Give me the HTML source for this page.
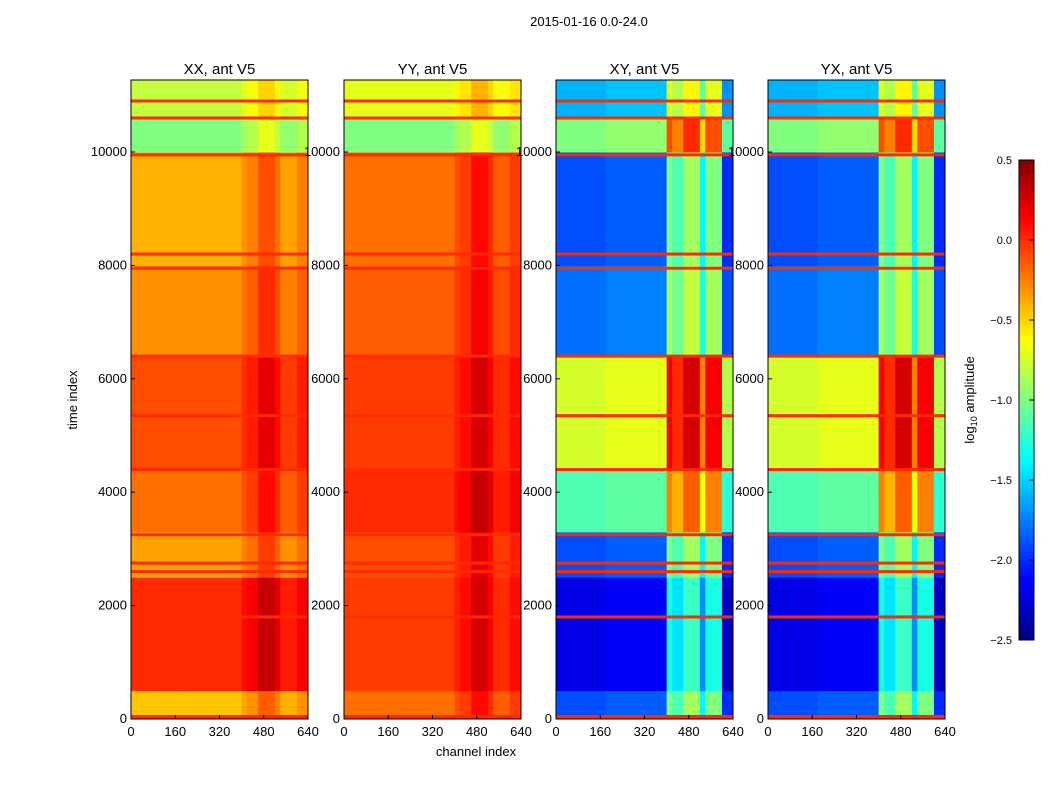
<!DOCTYPE html>
<html><head><meta charset="utf-8"><style>
body{margin:0;background:#fff}
svg{font-family:"Liberation Sans",sans-serif}
</style></head><body>
<svg id="fig" width="1050" height="800" xmlns="http://www.w3.org/2000/svg">
<rect width="1050" height="800" fill="#fff"/>
<text x="589" y="26" font-size="13" text-anchor="middle">2015-01-16 0.0-24.0</text>
<text transform="translate(77,400) rotate(-90)" font-size="13" text-anchor="middle">time index</text>
<text x="476" y="756" font-size="13" text-anchor="middle">channel index</text>
<text transform="translate(974,400) rotate(-90)" font-size="13" text-anchor="middle">log<tspan font-size="9" dy="3">10</tspan><tspan dy="-3"> amplitude</tspan></text>
<g id="panels"></g>
<g id="cbar"></g>
</svg>
<script>
// time bands: [start, end]
const bandStart = [0, 80, 500, 2500, 3300, 4400, 6400, 8000, 10000, 10600];
const bandEnd   = [80, 500, 2500, 3300, 4400, 6400, 8000, 10000, 10600, 11270];
// base log10 amplitude per band for each panel
const valsXX = [0.0, -0.45, 0.0, -0.35, -0.2, -0.1, -0.3, -0.4, -1.0, -0.8];
const valsYY = [0.0, -0.2, -0.05, -0.1, 0.0, -0.05, -0.15, -0.2, -1.0, -0.7];
const valsXY = [0.0, -1.9, -2.2, -1.9, -1.15, -0.75, -1.8, -1.9, -1.0, -1.6];
const valsYX = [0.0, -1.9, -2.2, -1.9, -1.15, -0.75, -1.8, -1.9, -1.0, -1.6];
// channel segments and offsets
const chanStart = [0, 180, 400, 420, 460, 520, 540, 600];
const chanEnd   = [180, 400, 420, 460, 520, 540, 600, 640];
const offPar   = [0, 0, 0.1, 0.15, 0.3, 0.2, 0.05, 0.15];
const offCross = [0, 0.05, 0.9, 0.75, 1.0, 0.5, 0.9, -0.1];
// flagged rows (orange lines)
const flagTimes = [1800, 2600, 2750, 3250, 4400, 5350, 6400, 7950, 8200, 9950, 10600, 10900];
const yTicks = [0, 2000, 4000, 6000, 8000, 10000];
const xTicks = [0, 160, 320, 480, 640];
const cbTicks = [0.5, 0.0, -0.5, -1.0, -1.5, -2.0, -2.5];

const NS = "http://www.w3.org/2000/svg";
function jet(v){ // v in -2.5..0.5
  let t = Math.max(0, Math.min(1, (v + 2.5) / 3));
  const f = x => Math.round(255 * Math.max(0, Math.min(1, 1.5 - Math.abs(4 * t - x))));
  return `rgb(${f(3)},${f(2)},${f(1)})`;
}
const Y0 = 719, SY = 639 / 11270;
const yS = t => Y0 - t * SY;
function mk(tag, attrs, parent){ const e = document.createElementNS(NS, tag); for (const k in attrs) e.setAttribute(k, attrs[k]); parent.appendChild(e); return e; }
const panels = [
  {x0:131, title:"XX, ant V5", vals:valsXX, off:offPar, name:"xx"},
  {x0:344, title:"YY, ant V5", vals:valsYY, off:offPar, name:"yy"},
  {x0:556, title:"XY, ant V5", vals:valsXY, off:offCross, name:"xy"},
  {x0:768, title:"YX, ant V5", vals:valsYX, off:offCross, name:"yx"}];
const root = document.getElementById('panels');
panels.forEach(p => {
  const W = 177, xS = c => p.x0 + c * W / 640;
  const g = mk('g', {}, root);
  
  
  for (let b = 0; b < bandStart.length; b++) {
    for (let c = 0; c < chanStart.length; c++) {
      const r = mk('rect', {x: xS(chanStart[c]), y: yS(bandEnd[b]), width: xS(chanEnd[c]) - xS(chanStart[c]) + 0.5, height: yS(bandStart[b]) - yS(bandEnd[b]) + 0.5, fill: jet(b === 0 ? p.vals[b] : p.vals[b] + p.off[c])}, g);
      
      
    }
  }
  flagTimes.forEach(t => {
    const r = mk('rect', {x: p.x0, y: yS(t) - 1.5, width: W, height: 3, fill: jet(0)}, g);
    
    
  });
  mk('rect', {x: p.x0, y: 80, width: W, height: 639, fill: 'none', stroke: '#000', 'stroke-width': 1}, g);
  const tt = mk('text', {x: p.x0 + W / 2, y: 74, 'font-size': 15, 'text-anchor': 'middle'}, g);
  tt.textContent = p.title;
  
  
  yTicks.forEach(t => {
    const l = mk('text', {x: p.x0 - 4, y: yS(t) + 4, 'font-size': 13, 'text-anchor': 'end'}, g);
    l.textContent = t;
    
    
    mk('line', {x1: p.x0, x2: p.x0 + 4, y1: yS(t), y2: yS(t), stroke: '#000'}, g);
  });
  xTicks.forEach(c => {
    const l = mk('text', {x: xS(c), y: 736, 'font-size': 13, 'text-anchor': 'middle'}, g);
    l.textContent = c;
    
    
    mk('line', {x1: xS(c), x2: xS(c), y1: 719, y2: 715, stroke: '#000'}, g);
  });
});
// colorbar
const cb = document.getElementById('cbar');


const cy = v => 160 + (0.5 - v) * 160;
for (let i = 0; i < 120; i++) {
  const v = 0.5 - i * 3 / 120;
  mk('rect', {x: 1019, y: cy(v), width: 15, height: 4.5, fill: jet(v - 0.0125)}, cb);
}
mk('rect', {x: 1019, y: 160, width: 15, height: 480, fill: 'none', stroke: '#000'}, cb);
cbTicks.forEach(v => {
  const l = mk('text', {x: 1012, y: cy(v) + 4, 'font-size': 11, 'text-anchor': 'end'}, cb);
  l.textContent = v === 0 ? "0.0" : (v < 0 ? "\u2212" + Math.abs(v).toFixed(1) : v.toFixed(1));
  
  
  mk('line', {x1: 1029, x2: 1034, y1: cy(v), y2: cy(v), stroke: '#000'}, cb);
});
</script>
</body></html>
